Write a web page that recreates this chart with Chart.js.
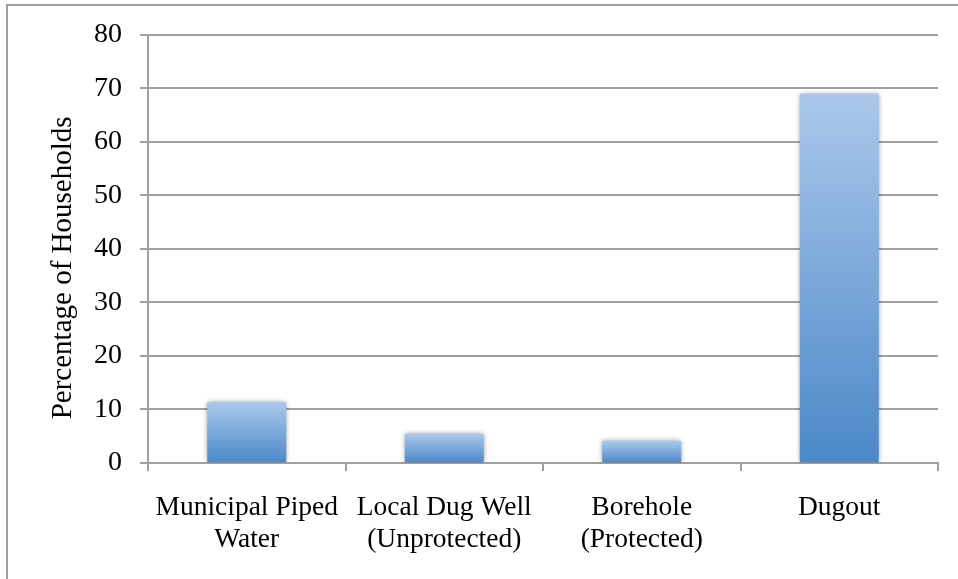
<!DOCTYPE html>
<html>
<head>
<meta charset="utf-8">
<script src="https://cdn.jsdelivr.net/npm/chart.js@4"></script>
<style>
  html, body { margin: 0; padding: 0; background: #fff; }
  #wrap { width: 958px; height: 579px; position: relative; }
</style>
</head>
<body>
<div id="wrap"><canvas id="c" width="958" height="579"></canvas></div>
<script>
// Household drinking-water sources
const categories = [
  ['Municipal Piped', 'Water'],
  ['Local Dug Well', '(Unprotected)'],
  ['Borehole', '(Protected)'],
  ['Dugout']
];
const percentages = [11.4, 5.4, 4.1, 69.0];
const yTicks = [0, 10, 20, 30, 40, 50, 60, 70, 80];
const yTitle = 'Percentage of Households';

const FONT = '"Liberation Serif", "DejaVu Serif", serif';
const GRID = '#a0a0a0';

// Vertical blue gradient spanning each bar from its top to the baseline
function barFill(ctx) {
  const chart = ctx.chart;
  if (!chart.chartArea || !ctx.parsed) return '#7aa8dc';
  const y = chart.scales.y;
  const top = y.getPixelForValue(ctx.parsed.y);
  const bottom = y.getPixelForValue(0);
  const g = chart.ctx.createLinearGradient(0, top, 0, bottom);
  g.addColorStop(0, '#abc8eb');
  g.addColorStop(1, '#4b88c8');
  return g;
}

// Outer frame, bar shadows and the rotated axis title
const decorations = {
  id: 'decorations',
  beforeDraw(chart) {
    const c = chart.ctx;
    c.save();
    c.fillStyle = '#fff';
    c.fillRect(0, 0, chart.width, chart.height);
    c.strokeStyle = '#a0a0a0';
    c.lineWidth = 2;
    c.beginPath();
    c.moveTo(7, chart.height);
    c.lineTo(7, 5);
    c.lineTo(chart.width, 5);
    c.stroke();
    c.restore();
  },
  beforeDatasetsDraw(chart) {
    const c = chart.ctx;
    c.save();
    c.shadowColor = 'rgba(0,0,0,0.45)';
    c.shadowBlur = 5;
    c.shadowOffsetX = 0;
    c.shadowOffsetY = 0;
  },
  afterDatasetsDraw(chart) {
    chart.ctx.restore();
  },
  afterDraw(chart) {
    const c = chart.ctx;
    const a = chart.chartArea;
    c.save();
    c.translate(a.left - 85, (a.top + a.bottom) / 2 + 19);
    c.rotate(-Math.PI / 2);
    c.font = '29px ' + FONT;
    c.fillStyle = '#000';
    c.textAlign = 'center';
    c.textBaseline = 'middle';
    c.fillText(yTitle, 0, 0);
    c.restore();
  }
};

new Chart(document.getElementById('c'), {
  type: 'bar',
  data: {
    labels: categories,
    datasets: [{
      data: percentages,
      backgroundColor: barFill,
      borderWidth: 0,
      barPercentage: 0.4,
      categoryPercentage: 1.0
    }]
  },
  options: {
    responsive: false,
    animation: false,
    events: [],
    layout: { padding: { left: 8, top: 34, right: 20, bottom: 0 } },
    plugins: {
      legend: { display: false },
      tooltip: { enabled: false },
      title: { display: false }
    },
    scales: {
      x: {
        offset: true,
        grid: {
          offset: true,
          drawOnChartArea: false,
          drawTicks: true,
          tickLength: 8,
          color: GRID,
          lineWidth: 2
        },
        border: { color: GRID, width: 2 },
        ticks: {
          color: '#000',
          padding: 21,
          maxRotation: 0,
          autoSkip: false,
          font: { family: FONT, size: 27.5, lineHeight: 1.17 }
        },
        afterFit(scale) { scale.height = 116; }
      },
      y: {
        min: 0,
        max: 80,
        afterBuildTicks(scale) { scale.ticks = yTicks.map(v => ({ value: v })); },
        grid: {
          color: GRID,
          lineWidth: 2,
          tickLength: 8,
          drawTicks: true
        },
        border: { color: GRID, width: 2 },
        ticks: {
          color: '#000',
          padding: 18,
          font: { family: FONT, size: 28 }
        },
        afterFit(scale) { scale.width = 140; }
      }
    }
  },
  plugins: [decorations]
});
</script>
</body>
</html>
